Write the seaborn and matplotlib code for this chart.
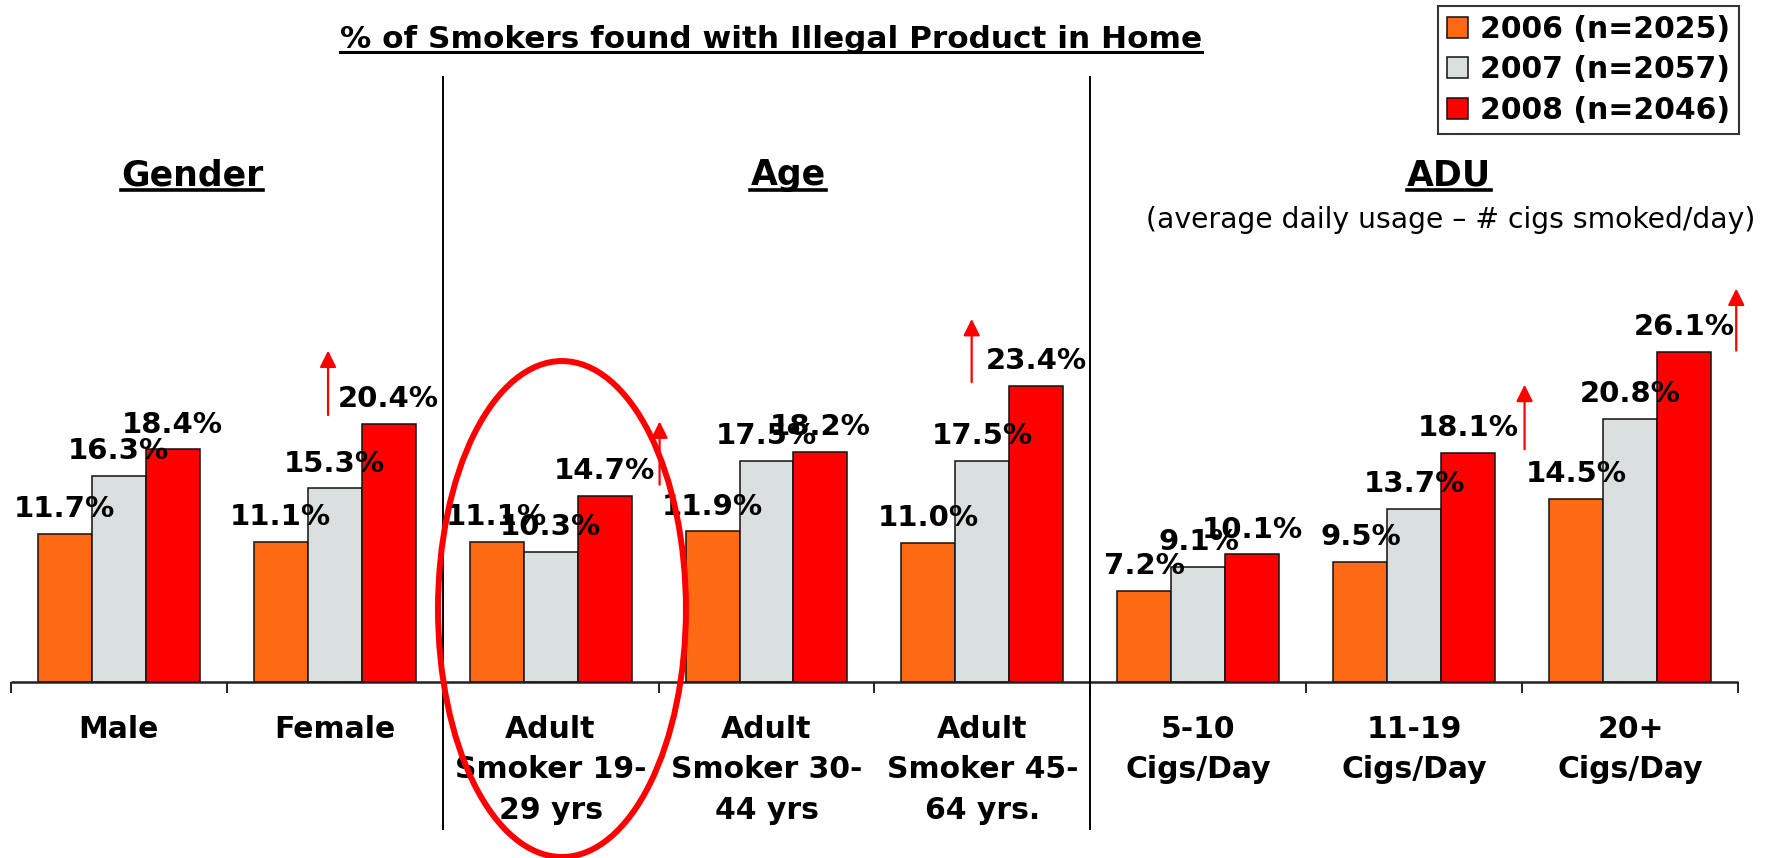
import numpy as np
import pandas as pd
import matplotlib
matplotlib.use("Agg")
import matplotlib.pyplot as plt
import seaborn as sns
from matplotlib.patches import Ellipse, Patch
from matplotlib.lines import Line2D

# ---------------- data ----------------
categories = ["Male", "Female",
              "Adult\nSmoker 19-\n29 yrs", "Adult\nSmoker 30-\n44 yrs", "Adult\nSmoker 45-\n64 yrs.",
              "5-10\nCigs/Day", "11-19\nCigs/Day", "20+\nCigs/Day"]
series_labels = ["2006 (n=2025)", "2007 (n=2057)", "2008 (n=2046)"]
values_2006 = [11.7, 11.1, 11.1, 11.9, 11.0, 7.2, 9.5, 14.5]
values_2007 = [16.3, 15.3, 10.3, 17.5, 17.5, 9.1, 13.7, 20.8]
values_2008 = [18.4, 20.4, 14.7, 18.2, 23.4, 10.1, 18.1, 26.1]
colors = ["#FF6A13", "#D9E0DF", "#FF0000"]

title = "% of Smokers found with Illegal Product in Home"
group_titles = ["Gender", "Age", "ADU"]
adu_note = "(average daily usage \u2013 # cigs smoked/day)"

# red "increase" arrows: category index, x offset from centre, base %, tip %
arrow_cat = [1, 2, 4, 6, 7]
arrow_dx = [-0.03, 0.505, -0.05, 0.51, 0.49]
arrow_base = [21.1, 15.6, 23.7, 18.4, 26.2]
arrow_tip = [26.2, 20.6, 28.7, 23.5, 31.1]

df = pd.DataFrame({
    "category": categories * 3,
    "series": np.repeat(series_labels, len(categories)),
    "value": values_2006 + values_2007 + values_2008,
})

# ---------------- figure ----------------
W, H = 1771, 858
fig = plt.figure(figsize=(W / 100, H / 100), dpi=100)
fig.patch.set_facecolor("white")
ax = fig.add_axes([0, 0, 1, 1])

sns.barplot(data=df, x="category", y="value", hue="series", order=categories,
            hue_order=series_labels, palette=colors, saturation=1, width=0.75,
            edgecolor="#111111", linewidth=1.1, ax=ax, legend=False)

n = len(categories)
ax.set_xlim(-0.549, 7.651)
ax.set_ylim(-13.91, 53.91)
ax.set_axis_off()

# baseline and group ticks
ax.hlines(0, -0.5, n - 0.5, color="#222222", lw=1.8, zorder=3)
ax.vlines(np.arange(n + 1) - 0.5, -0.9, 0, color="#222222", lw=1.4, zorder=3)
# section separators
ax.vlines([1.5, 4.5], -11.7, 47.9, color="black", lw=1.4, zorder=3)

# value labels
for cont in ax.containers:
    for bar in cont.patches:
        v = bar.get_height()
        ax.annotate(f"{v:.1f}%", (bar.get_x() + bar.get_width() / 2, v),
                    xytext=(0, 12), textcoords="offset points", ha="center",
                    va="baseline", fontsize=21, fontweight="bold", color="black",
                    zorder=5)

# category labels
for i, c in enumerate(categories):
    ax.annotate(c, (i, 0), xytext=(0, -23.5), textcoords="offset points",
                ha="center", va="top", fontsize=21.5, fontweight="bold",
                linespacing=1.5, color="black")

# arrows
for ci, dx, b, t in zip(arrow_cat, arrow_dx, arrow_base, arrow_tip):
    ax.annotate("", xy=(ci + dx, t), xytext=(ci + dx, b),
                arrowprops=dict(arrowstyle="-|>,head_length=1.0,head_width=0.5",
                                color="#FF0000", lw=1.6, shrinkA=0, shrinkB=0),
                zorder=6)

# highlight ellipse
ax.add_patch(Ellipse((2.053, 5.77), 1.148, 39.2, fill=False, edgecolor="#FF0000",
                     lw=4.3, zorder=7, clip_on=False))

# texts (figure pixel positions)
def ftext(x, y, s, **kw):
    return fig.text(x / W, 1 - y / H, s, **kw)

t_title = ftext(771, 48, title, ha="center", va="baseline", fontsize=22.4, fontweight="bold")
t_g = ftext(192, 185, group_titles[0], ha="center", va="baseline", fontsize=25, fontweight="bold")
t_a = ftext(788, 185, group_titles[1], ha="center", va="baseline", fontsize=25, fontweight="bold")
t_u = ftext(1449, 185, group_titles[2], ha="center", va="baseline", fontsize=25, fontweight="bold")
ftext(1451, 228, adu_note, ha="center", va="baseline", fontsize=20.3)

# legend
handles = [Patch(facecolor=c, edgecolor="#111111", lw=1.1) for c in colors]
leg = fig.legend(handles, series_labels, loc="upper right",
                 bbox_to_anchor=(1739 / W, 1 - 6 / H), bbox_transform=fig.transFigure,
                 prop={"weight": "bold", "size": 21.5}, frameon=True, fancybox=False,
                 handlelength=0.7, handleheight=0.7, handletextpad=0.4,
                 borderpad=0.3, labelspacing=0.38, borderaxespad=0)
leg.get_frame().set_edgecolor("black")
leg.get_frame().set_linewidth(1.5)

# underlines
fig.canvas.draw()
r = fig.canvas.get_renderer()
for t, off, lw in [(t_title, 4, 2.2), (t_g, 5, 2.6), (t_a, 5, 2.6), (t_u, 5, 2.6)]:
    bb = t.get_window_extent(r)
    x0, x1 = bb.x0, bb.x1
    y = t.get_position()[1] * H - off
    fig.add_artist(Line2D([x0 / W, x1 / W], [y / H, y / H], color="black", lw=lw,
                          transform=fig.transFigure))

fig.savefig("out.png", dpi=100)
